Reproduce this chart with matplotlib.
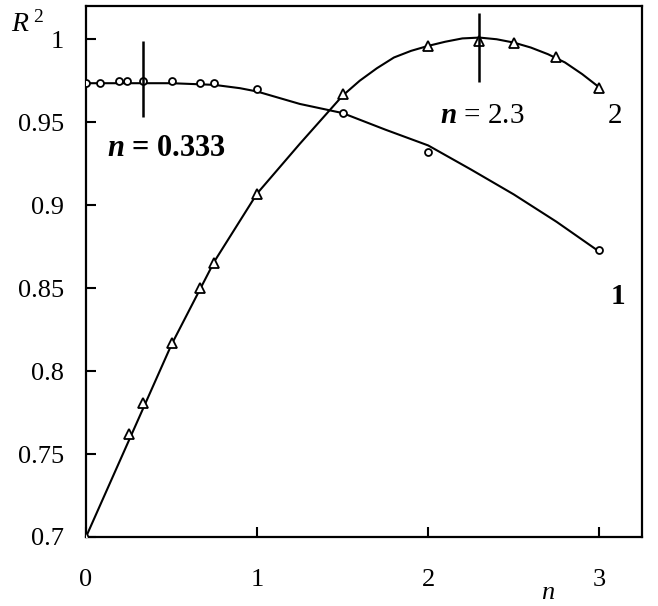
import matplotlib
matplotlib.use('Agg')
import matplotlib.pyplot as plt

plt.rcParams['font.family'] = ['Liberation Serif', 'DejaVu Serif']
plt.rcParams['mathtext.fontset'] = 'custom'
plt.rcParams['mathtext.rm'] = 'Liberation Serif'
plt.rcParams['mathtext.it'] = 'Liberation Serif:italic'
plt.rcParams['mathtext.bf'] = 'Liberation Serif:bold'
plt.rcParams['mathtext.bfit'] = 'Liberation Serif:italic:bold'

# measured points, curve 1 (circles)
n1 = [0, 0.08, 0.19, 0.24, 0.333, 0.5, 0.667, 0.75, 1.0, 1.5, 2.0, 3.0]
r2_1 = [0.9735, 0.9735, 0.975, 0.975, 0.975, 0.975, 0.9735, 0.9735, 0.970, 0.9555, 0.932, 0.873]

# measured points, curve 2 (triangles)
n2 = [0, 0.25, 0.333, 0.5, 0.667, 0.75, 1.0, 1.5, 2.0, 2.3, 2.5, 2.75, 3.0]
r2_2 = [0.700, 0.762, 0.781, 0.817, 0.850, 0.865, 0.907, 0.967, 0.996, 0.999, 0.998, 0.989, 0.9705]

# drawn trend lines
line1_n = [0, 0.5, 0.75, 0.9, 1.0, 1.25, 1.5, 1.75, 2.0, 2.25, 2.5, 2.75, 3.0]
line1_r2 = [0.9735, 0.9735, 0.9725, 0.9705, 0.9685, 0.961, 0.9555, 0.9455, 0.936, 0.9215, 0.9065, 0.890, 0.872]
line2_n = [0, 0.25, 0.5, 0.75, 1.0, 1.25, 1.5, 1.6, 1.7, 1.8, 1.9, 2.0, 2.1, 2.2, 2.3, 2.4, 2.5, 2.6, 2.7, 2.8, 2.9, 3.0]
line2_r2 = [0.700, 0.758, 0.816, 0.866, 0.907, 0.937, 0.966, 0.975, 0.9825, 0.989, 0.993, 0.996, 0.9985, 1.0005, 1.001,
            1.0, 0.998, 0.995, 0.991, 0.986, 0.979, 0.971]

# optimum markers
opt_n = [0.333, 2.3]
opt_lo = [0.953, 0.974]
opt_hi = [0.999, 1.016]

fig = plt.figure(figsize=(6.58, 6.06), dpi=100)
ax = fig.add_axes([0.1307, 0.1139, 0.845, 0.8761])

ax.plot(line1_n, line1_r2, color='black', lw=1.5, zorder=2)
ax.plot(line2_n, line2_r2, color='black', lw=1.5, zorder=2)
ax.plot(n1, r2_1, 'o', ms=5, mfc='white', mec='black', mew=1.3, zorder=3)
ax.plot(n2, r2_2, '^', ms=7, mfc='white', mec='black', mew=1.3, zorder=3)
ax.vlines(opt_n, opt_lo, opt_hi, color='black', lw=1.8, zorder=4)

ax.text(0.12, 0.934, r'$\mathbfit{n}$ = 0.333', fontsize=22, fontweight='bold', va='center')
ax.text(2.07, 0.954, r'$\mathbfit{n}$ = 2.3', fontsize=21, va='center')
ax.text(3.09, 0.954, '2', fontsize=21, va='center', ha='center')
ax.text(3.11, 0.845, '1', fontsize=21, fontweight='bold', va='center', ha='center')

ax.text(-0.135, 0.966, r'$\mathit{R}^{\;2}$', transform=ax.transAxes, fontsize=20, ha='left', va='center')
fig.text(0.833, 0.003, r'$\mathit{n}$', fontsize=19, ha='center', va='bottom')

ax.set_xlim(0, 3.25)
ax.set_ylim(0.7, 1.02)
ax.set_xticks([0, 1, 2, 3])
ax.set_xticklabels(['0', '1', '2', '3'])
ax.set_yticks([0.7, 0.75, 0.8, 0.85, 0.9, 0.95, 1.0])
ax.set_yticklabels(['0.7', '0.75', '0.8', '0.85', '0.9', '0.95', '1'])
ax.tick_params(direction='in', length=7, width=1.5, labelsize=19)
ax.tick_params(axis='y', pad=16)
ax.tick_params(axis='x', pad=23)
for s in ax.spines.values():
    s.set_linewidth(1.6)

fig.savefig('out.png', dpi=100)
